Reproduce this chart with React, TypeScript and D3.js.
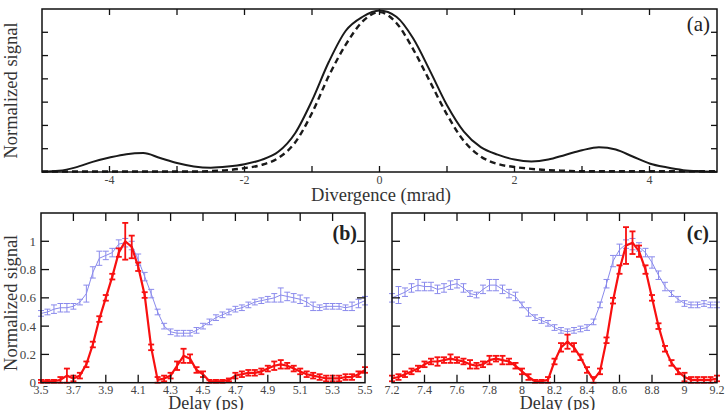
import * as d3 from "d3";
import { useEffect, useRef } from "react";

const W = 726;
const H = 410;
const FONT = "'Liberation Serif', 'Times New Roman', serif";

// (a) divergence profile, mrad
const divergence = [
  -5, -4.75, -4.5, -4.25, -4, -3.75, -3.5, -3.25, -3, -2.75, -2.5, -2.25, -2, -1.75, -1.5, -1.25, -1, -0.75, -0.5, -0.25,
  0, 0.25, 0.5, 0.75, 1, 1.25, 1.5, 1.75, 2, 2.25, 2.5, 2.75, 3, 3.25, 3.5, 3.75, 4, 4.25, 4.5, 4.75, 5,
];
const measured = [
  0.002, 0.008, 0.03, 0.065, 0.093, 0.115, 0.122, 0.09, 0.058, 0.036, 0.028, 0.035, 0.05, 0.078, 0.13, 0.25, 0.46, 0.71, 0.91, 1.0,
  1.04, 1.0, 0.86, 0.65, 0.43, 0.26, 0.16, 0.112, 0.08, 0.068, 0.08, 0.11, 0.14, 0.16, 0.145, 0.1, 0.055, 0.03, 0.012, 0.005, 0.002,
];
const simulated = [
  0.003, 0.003, 0.003, 0.003, 0.003, 0.003, 0.003, 0.003, 0.003, 0.003, 0.006, 0.012, 0.025, 0.045, 0.09, 0.19, 0.38, 0.62, 0.82, 0.97,
  1.03, 0.96, 0.79, 0.58, 0.37, 0.2, 0.1, 0.052, 0.032, 0.02, 0.012, 0.008, 0.005, 0.005, 0.005, 0.005, 0.005, 0.005, 0.005, 0.005, 0.005,
];

// (b) delay scan 3.5 - 5.5 ps
const delayB = [
  3.5, 3.54, 3.58, 3.62, 3.66, 3.7, 3.74, 3.78, 3.82, 3.86, 3.9, 3.94, 3.98, 4.02, 4.06, 4.1, 4.14, 4.18, 4.22, 4.26,
  4.3, 4.34, 4.38, 4.42, 4.46, 4.5, 4.54, 4.58, 4.62, 4.66, 4.7, 4.74, 4.78, 4.82, 4.86, 4.9, 4.94, 4.98, 5.02, 5.06,
  5.1, 5.14, 5.18, 5.22, 5.26, 5.3, 5.34, 5.38, 5.42, 5.46, 5.5,
];
const redB = [
  0.01, 0.01, 0.01, 0.02, 0.05, 0.03, 0.05, 0.13, 0.27, 0.45, 0.6, 0.75, 0.92, 1.0, 0.96, 0.82, 0.62, 0.25, 0.02, 0.03,
  0.05, 0.12, 0.19, 0.17, 0.09, 0.06, 0.01, 0.01, 0.01, 0.02, 0.05, 0.06, 0.07, 0.07, 0.08, 0.1, 0.12, 0.13, 0.12, 0.1,
  0.08, 0.06, 0.05, 0.04, 0.03, 0.03, 0.03, 0.04, 0.04, 0.06, 0.09,
];
const redErrB = [
  0.01, 0.01, 0.01, 0.02, 0.05, 0.02, 0.02, 0.02, 0.02, 0.02, 0.02, 0.02, 0.03, 0.13, 0.08, 0.03, 0.02, 0.02, 0.02, 0.02,
  0.02, 0.03, 0.05, 0.03, 0.02, 0.02, 0.01, 0.01, 0.01, 0.01, 0.02, 0.02, 0.02, 0.02, 0.02, 0.02, 0.03, 0.03, 0.02, 0.02,
  0.02, 0.02, 0.02, 0.02, 0.02, 0.02, 0.02, 0.02, 0.02, 0.02, 0.02,
];
const blueB = [
  0.49, 0.5, 0.52, 0.53, 0.53, 0.54, 0.57, 0.63, 0.78, 0.88, 0.9, 0.92, 0.98, 0.99, 0.97, 0.87, 0.75, 0.63, 0.5, 0.4,
  0.36, 0.35, 0.35, 0.35, 0.37, 0.4, 0.43, 0.46, 0.48, 0.5, 0.52, 0.53, 0.55, 0.57, 0.58, 0.59, 0.6, 0.62, 0.61, 0.6,
  0.59, 0.57, 0.54, 0.53, 0.54, 0.54, 0.54, 0.53, 0.54, 0.56, 0.58,
];
const blueErrB = [
  0.02, 0.02, 0.03, 0.03, 0.03, 0.02, 0.02, 0.06, 0.04, 0.05, 0.03, 0.03, 0.03, 0.03, 0.03, 0.04, 0.03, 0.03, 0.02, 0.02,
  0.02, 0.02, 0.02, 0.02, 0.02, 0.02, 0.02, 0.02, 0.02, 0.02, 0.02, 0.02, 0.02, 0.02, 0.02, 0.02, 0.03, 0.05, 0.03, 0.03,
  0.03, 0.03, 0.03, 0.02, 0.02, 0.02, 0.02, 0.02, 0.03, 0.03, 0.03,
];

// (c) delay scan 7.2 - 9.2 ps
const delayC = [
  7.2, 7.24, 7.28, 7.32, 7.36, 7.4, 7.44, 7.48, 7.52, 7.56, 7.6, 7.64, 7.68, 7.72, 7.76, 7.8, 7.84, 7.88, 7.92, 7.96,
  8.0, 8.04, 8.08, 8.12, 8.16, 8.2, 8.24, 8.28, 8.32, 8.36, 8.4, 8.44, 8.48, 8.52, 8.56, 8.6, 8.64, 8.68, 8.72, 8.76,
  8.8, 8.84, 8.88, 8.92, 8.96, 9.0, 9.04, 9.08, 9.12, 9.16, 9.2,
];
const redC = [
  0.03, 0.04, 0.06, 0.08, 0.1, 0.13, 0.15, 0.15, 0.16, 0.17, 0.16, 0.15, 0.13, 0.12, 0.13, 0.16, 0.17, 0.16, 0.15, 0.12,
  0.08, 0.04, 0.01, 0.01, 0.02, 0.15, 0.25, 0.29, 0.25, 0.18, 0.09, 0.02, 0.08, 0.3, 0.58, 0.8, 0.97, 0.99, 0.93, 0.8,
  0.6, 0.4, 0.24, 0.14, 0.08, 0.04, 0.02, 0.02, 0.02, 0.02, 0.03,
];
const redErrC = [
  0.02, 0.02, 0.02, 0.02, 0.02, 0.02, 0.02, 0.03, 0.02, 0.03, 0.02, 0.02, 0.03, 0.02, 0.02, 0.03, 0.02, 0.03, 0.02, 0.02,
  0.02, 0.02, 0.01, 0.01, 0.02, 0.02, 0.03, 0.05, 0.03, 0.02, 0.02, 0.02, 0.02, 0.02, 0.02, 0.03, 0.13, 0.08, 0.04, 0.03,
  0.02, 0.02, 0.02, 0.02, 0.02, 0.03, 0.02, 0.02, 0.02, 0.02, 0.02,
];
const blueC = [
  0.6, 0.62, 0.64, 0.67, 0.69, 0.68, 0.68, 0.66, 0.67, 0.69, 0.7, 0.67, 0.63, 0.62, 0.66, 0.69, 0.69, 0.66, 0.63, 0.61,
  0.55, 0.5, 0.46, 0.44, 0.42, 0.39, 0.37, 0.36, 0.37, 0.38, 0.39, 0.43, 0.55, 0.7, 0.86, 0.94, 0.98, 0.98, 0.96, 0.92,
  0.85, 0.76, 0.68, 0.63, 0.59, 0.56, 0.55, 0.55, 0.56, 0.55, 0.55,
];
const blueErrC = [
  0.03, 0.06, 0.03, 0.03, 0.04, 0.03, 0.03, 0.03, 0.03, 0.03, 0.03, 0.03, 0.02, 0.02, 0.03, 0.04, 0.04, 0.03, 0.03, 0.03,
  0.02, 0.03, 0.02, 0.02, 0.02, 0.02, 0.02, 0.02, 0.02, 0.02, 0.02, 0.02, 0.02, 0.03, 0.04, 0.04, 0.03, 0.04, 0.03, 0.03,
  0.04, 0.03, 0.03, 0.02, 0.02, 0.02, 0.02, 0.02, 0.02, 0.02, 0.02,
];

const ticksB = [3.5, 3.7, 3.9, 4.1, 4.3, 4.5, 4.7, 4.9, 5.1, 5.3, 5.5];
const ticksC = [7.2, 7.4, 7.6, 7.8, 8, 8.2, 8.4, 8.6, 8.8, 9, 9.2];
const signalTicks = [0, 0.2, 0.4, 0.6, 0.8, 1];

const RED = "#f81010";
const BLUE = "#8a8aec";

type Sel = d3.Selection<SVGGElement, unknown, null, undefined>;

function frame(g: Sel, l: number, t: number, r: number, b: number) {
  g.append("rect")
    .attr("x", l).attr("y", t)
    .attr("width", r - l).attr("height", b - t)
    .attr("fill", "none").attr("stroke", "#111").attr("stroke-width", 1.5);
}

function innerTicks(g: Sel, xs: number[], ys: number[], l: number, t: number, r: number, b: number, len: number) {
  const tk = g.append("g").attr("stroke", "#111").attr("stroke-width", 1.3);
  xs.forEach((px) => {
    tk.append("line").attr("x1", px).attr("x2", px).attr("y1", b).attr("y2", b - len);
    tk.append("line").attr("x1", px).attr("x2", px).attr("y1", t).attr("y2", t + len);
  });
  ys.forEach((py) => {
    tk.append("line").attr("x1", l).attr("x2", l + len).attr("y1", py).attr("y2", py);
    tk.append("line").attr("x1", r).attr("x2", r - len).attr("y1", py).attr("y2", py);
  });
}

function drawProfile(g: Sel) {
  const l = 42, r = 717, t = 9, b = 172;
  const x = d3.scaleLinear().domain([-5, 5]).range([l, r]);
  const y = d3.scaleLinear().domain([0, 1.05]).range([b, t]);

  const line = d3.line<number>()
    .x((_, i) => x(divergence[i]))
    .curve(d3.curveMonotoneX);

  g.append("path")
    .attr("d", line.y((d) => y(d))(simulated))
    .attr("fill", "none").attr("stroke", "#1a1a1a")
    .attr("stroke-width", 2.4).attr("stroke-dasharray", "6,4");
  g.append("path")
    .attr("d", line.y((d) => y(d))(measured))
    .attr("fill", "none").attr("stroke", "#1a1a1a").attr("stroke-width", 2);

  frame(g, l, t, r, b);
  innerTicks(g, d3.range(-4, 5).map((v) => x(v)), d3.range(1, 7).map((k) => y(k * 0.15)), l, t, r, b, 6);

  g.append("g").selectAll("text")
    .data([-4, -2, 0, 2, 4])
    .join("text")
    .attr("x", (d) => x(d)).attr("y", 184)
    .attr("text-anchor", "middle")
    .attr("font-family", FONT).attr("font-size", 12).attr("fill", "#444")
    .text((d) => String(d));

  g.append("text")
    .attr("x", 381).attr("y", 201).attr("text-anchor", "middle")
    .attr("font-family", FONT).attr("font-size", 18.5).attr("fill", "#333")
    .text("Divergence (mrad)");
  g.append("text")
    .attr("transform", `translate(17,${(t + b) / 2}) rotate(-90)`)
    .attr("text-anchor", "middle")
    .attr("font-family", FONT).attr("font-size", 18.5).attr("fill", "#333")
    .text("Normalized signal");
  g.append("text")
    .attr("x", 710).attr("y", 31).attr("text-anchor", "end")
    .attr("font-family", FONT).attr("font-size", 21).attr("fill", "#222")
    .text("(a)");
}

function drawScan(
  g: Sel, l: number, r: number, delays: number[], ticks: number[],
  red: number[], redErr: number[], blue: number[], blueErr: number[],
  tag: string, yLabels: boolean,
) {
  const t = 213, b = 382.7;
  const x = d3.scaleLinear().domain([ticks[0], ticks[ticks.length - 1]]).range([l, r]);
  const y = d3.scaleLinear().domain([0, 1.2]).range([b, t]);

  const series = (vals: number[], err: number[], color: string, lw: number, ew: number, cap: number) => {
    const s = g.append("g");
    s.append("path")
      .attr("d", d3.line<number>().x((_, i) => x(delays[i])).y((d) => y(d))(vals))
      .attr("fill", "none").attr("stroke", color).attr("stroke-width", lw)
      .attr("stroke-linejoin", "round");
    const bars = s.append("g").attr("stroke", color).attr("stroke-width", ew);
    vals.forEach((v, i) => {
      const cx = x(delays[i]);
      const lo = y(Math.max(0, v - err[i]));
      const hi = y(v + err[i]);
      bars.append("line").attr("x1", cx).attr("x2", cx).attr("y1", lo).attr("y2", hi);
      bars.append("line").attr("x1", cx - cap).attr("x2", cx + cap).attr("y1", lo).attr("y2", lo);
      bars.append("line").attr("x1", cx - cap).attr("x2", cx + cap).attr("y1", hi).attr("y2", hi);
    });
  };

  series(blue, blueErr, BLUE, 1, 1, 3);
  series(red, redErr, RED, 2.2, 1.8, 3);

  frame(g, l, t, r, b);
  innerTicks(g, ticks.slice(1, -1).map((v) => x(v)), signalTicks.slice(1).map((v) => y(v)), l, t, r, b, 8);

  g.append("g").selectAll("text")
    .data(ticks)
    .join("text")
    .attr("x", (d) => x(d)).attr("y", 394)
    .attr("text-anchor", "middle")
    .attr("font-family", FONT).attr("font-size", 12).attr("fill", "#444")
    .text((d) => String(d));

  if (yLabels) {
    g.append("g").selectAll("text")
      .data(signalTicks)
      .join("text")
      .attr("x", 36).attr("y", (d) => y(d)).attr("dy", "0.35em")
      .attr("text-anchor", "end")
      .attr("font-family", FONT).attr("font-size", 13).attr("fill", "#444")
      .text((d) => String(d));
    g.append("text")
      .attr("transform", `translate(17,${(t + b) / 2 + 5}) rotate(-90)`)
      .attr("text-anchor", "middle")
      .attr("font-family", FONT).attr("font-size", 18.5).attr("fill", "#333")
      .text("Normalized signal");
  }

  g.append("text")
    .attr("x", (l + r) / 2 + 3).attr("y", 409).attr("text-anchor", "middle")
    .attr("font-family", FONT).attr("font-size", 18).attr("fill", "#333")
    .text("Delay (ps)");
  g.append("text")
    .attr("x", r - 8).attr("y", 240).attr("text-anchor", "end")
    .attr("font-family", FONT).attr("font-size", 20).attr("font-weight", "bold").attr("fill", "#222")
    .text(tag);
}

const App = () => {
  const ref = useRef<SVGSVGElement | null>(null);

  useEffect(() => {
    const svg = d3.select(ref.current);
    svg.selectAll("*").remove();
    const root = svg.append("g") as unknown as Sel;
    drawProfile(root.append("g"));
    drawScan(root.append("g"), 41, 365, delayB, ticksB, redB, redErrB, blueB, blueErrB, "(b)", true);
    drawScan(root.append("g"), 392, 717, delayC, ticksC, redC, redErrC, blueC, blueErrC, "(c)", false);
  }, []);

  return (
    <svg
      ref={ref}
      width={W}
      height={H}
      style={{ position: "absolute", left: 0, top: 0, background: "#fff" }}
    />
  );
};

export default App;
